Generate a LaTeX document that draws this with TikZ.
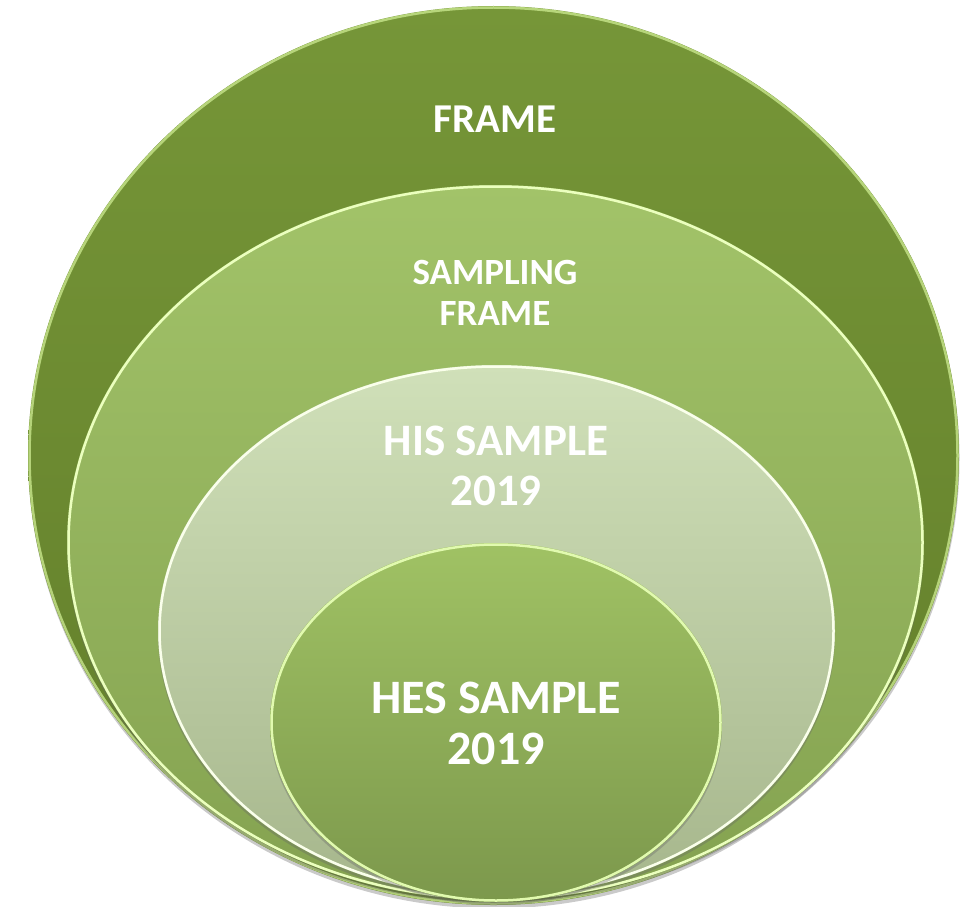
\documentclass[tikz,border=0pt]{standalone}
\usepackage{fontspec}
\setmainfont{Carlito}
\definecolor{oTop}{RGB}{118,150,56}
\definecolor{oBot}{RGB}{98,126,42}
\definecolor{oRim}{RGB}{200,230,140}
\definecolor{sTop}{RGB}{162,195,105}
\definecolor{sBot}{RGB}{132,162,80}
\definecolor{sRim}{RGB}{235,255,190}
\definecolor{hTop}{RGB}{208,224,185}
\definecolor{hBot}{RGB}{166,182,140}
\definecolor{hRim}{RGB}{250,255,235}
\definecolor{eTop}{RGB}{160,194,100}
\definecolor{eBot}{RGB}{124,152,76}
\definecolor{eRim}{RGB}{225,250,175}
\begin{document}
\begin{tikzpicture}[x=1pt,y=-1pt,
  lab/.style={text=white,align=center,inner sep=0pt},
  rim/.style={draw=#1,line width=2.5pt},
  shadowring/.style={fill=black!60,opacity=0.35}]
\useasboundingbox (0,0) rectangle (961,907);
% outer
\fill[shadowring] (494,459) ellipse [x radius=465.5,y radius=449.5];
\shade[top color=oTop,bottom color=oBot] (493.5,455.5) ellipse [x radius=465.5,y radius=449.5];
\draw[rim=oRim,opacity=0.8] (493.5,455.5) ellipse [x radius=464,y radius=448];
% second
\fill[shadowring] (495.5,545.5) ellipse [x radius=428.5,y radius=357.5];
\shade[top color=sTop,bottom color=sBot] (495.5,542.5) ellipse [x radius=428.5,y radius=357.5];
\draw[rim=sRim] (495.5,542.5) ellipse [x radius=427,y radius=356];
% third
\fill[shadowring] (496.5,634) ellipse [x radius=338.5,y radius=266];
\shade[top color=hTop,bottom color=hBot] (496.5,631) ellipse [x radius=338.5,y radius=266];
\draw[rim=hRim] (496.5,631) ellipse [x radius=337,y radius=264.5];
% fourth
\fill[shadowring] (496,725.5) ellipse [x radius=226,y radius=179.5];
\shade[top color=eTop,bottom color=eBot] (496,722.5) ellipse [x radius=226,y radius=179.5];
\draw[rim=eRim] (496,722.5) ellipse [x radius=224.5,y radius=178];
% labels
\node[lab,font=\bfseries\fontsize{41}{48}\selectfont] (frame) at (495,119) {FRAME};
\node[lab,font=\bfseries\fontsize{37}{41}\selectfont] (sframe) at (495,293) {SAMPLING\\FRAME};
\node[lab,font=\bfseries\fontsize{45}{50}\selectfont] (his) at (496,466) {HIS SAMPLE\\2019};
\node[lab,font=\bfseries\fontsize{48}{51}\selectfont] (hes) at (496,723) {HES SAMPLE\\2019};
\end{tikzpicture}
\end{document}
